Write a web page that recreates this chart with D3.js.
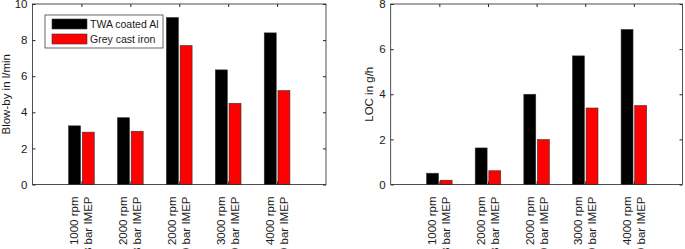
<!DOCTYPE html>
<html><head><meta charset="utf-8">
<script src="https://cdn.jsdelivr.net/npm/d3@7"></script>
<style>body{margin:0;background:#fff}svg{display:block}text{font-family:"Liberation Sans",Arial,sans-serif;fill:#1a1a1a}</style>
</head><body><svg id="c" width="685" height="249"></svg>
<script>
const categories = [["1000 rpm","3 bar IMEP"],["2000 rpm","3 bar IMEP"],["2000 rpm","9 bar IMEP"],["3000 rpm","9 bar IMEP"],["4000 rpm","9 bar IMEP"]];
const seriesNames = ["TWA coated Al","Grey cast iron"];
const seriesColors = ["#000000","#ff0000"];
const blowbyTWA = [3.25, 3.7, 9.25, 6.35, 8.4];
const blowbyGrey = [2.9, 2.95, 7.7, 4.5, 5.2];
const locTWA = [0.5, 1.62, 4.0, 5.7, 6.87];
const locGrey = [0.19, 0.61, 1.99, 3.39, 3.5];
const blowbyTicks = [0,2,4,6,8,10];
const locTicks = [0,2,4,6,8];

const svg = d3.select("#c");
function panel(x0, x1, y0, y1, ymax, ticks, ylabel, labelX, data, legend){
  const g = svg.append("g");
  const x = d3.scaleLinear().domain([0,6]).range([x0,x1]);
  const y = d3.scaleLinear().domain([0,ymax]).range([y1,y0]);
  const bw = x(0.245)-x(0);
  const off = [-0.14, 0.14];
  data.forEach((vals, s) => {
    g.selectAll(null).data(vals).enter().append("rect")
      .attr("x",(d,i)=>x(i+1+off[s])-bw/2).attr("width",bw)
      .attr("y",d=>y(d)).attr("height",d=>y(0)-y(d))
      .attr("fill",seriesColors[s]).attr("stroke","#333").attr("stroke-width",0.6);
  });
  const col = "#262626";
  g.append("rect").attr("x",x0).attr("y",y0).attr("width",x1-x0).attr("height",y1-y0)
    .attr("fill","none").attr("stroke",col).attr("stroke-width",0.8);
  const ya = g.append("g").attr("transform",`translate(${x0},0)`)
    .call(d3.axisLeft(y).tickValues(ticks).tickSize(-3).tickPadding(5).tickFormat(d3.format("d")));
  ya.select(".domain").remove();
  ya.selectAll("line").attr("stroke",col);
  ya.selectAll("text").style("font-size","11.5px").attr("fill","#1a1a1a");
  const yr = g.append("g").attr("transform",`translate(${x1},0)`)
    .call(d3.axisRight(y).tickValues(ticks).tickSize(-3).tickFormat(""));
  yr.select(".domain").remove(); yr.selectAll("line").attr("stroke",col);
  const xb = g.append("g").attr("transform",`translate(0,${y1})`)
    .call(d3.axisBottom(x).tickValues([1,2,3,4,5]).tickSize(-3).tickFormat(""));
  xb.select(".domain").remove(); xb.selectAll("line").attr("stroke",col);
  const xt = g.append("g").attr("transform",`translate(0,${y0})`)
    .call(d3.axisTop(x).tickValues([1,2,3,4,5]).tickSize(-3).tickFormat(""));
  xt.select(".domain").remove(); xt.selectAll("line").attr("stroke",col);
  categories.forEach((c,i)=>{
    c.forEach((t,j)=>{
      g.append("text").attr("transform",`translate(${x(i+1)+(j===0?-3:11)},${y1+12}) rotate(-90)`)
        .attr("text-anchor","end").style("font-size","11.5px").text(t);
    });
  });
  g.append("text").attr("transform",`translate(${labelX},${(y0+y1)/2}) rotate(-90)`)
    .attr("text-anchor","middle").style("font-size","11.5px").text(ylabel);
  if(legend){
    const lg = g.append("g");
    lg.append("rect").attr("x",45).attr("y",15).attr("width",118).attr("height",33)
      .attr("fill","#fff").attr("stroke",col).attr("stroke-width",0.7);
    seriesNames.forEach((n,i)=>{
      lg.append("rect").attr("x",52).attr("y",19+i*15).attr("width",35).attr("height",10)
        .attr("fill",seriesColors[i]).attr("stroke","#333").attr("stroke-width",0.6);
      lg.append("text").attr("x",90).attr("y",28+i*15).style("font-size","10.5px").text(n);
    });
  }
}
panel(32.5, 326, 4, 184.5, 10, blowbyTicks, "Blow-by in l/min", 10, [blowbyTWA, blowbyGrey], true);
panel(390.7, 682.5, 4, 184.5, 8, locTicks, "LOC in g/h", 373, [locTWA, locGrey], false);
</script></body></html>
